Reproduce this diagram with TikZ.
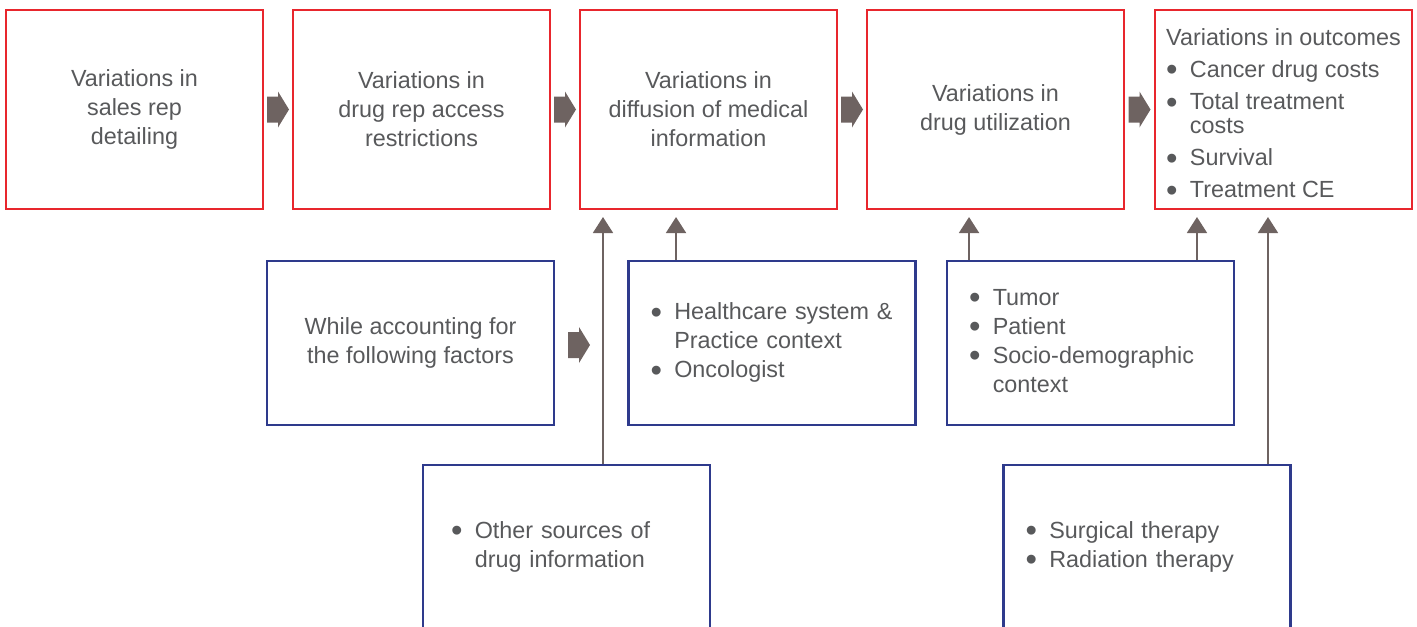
\documentclass[tikz,border=0pt]{standalone}
\usepackage{fontspec}
\setmainfont{Liberation Sans}
\usetikzlibrary{arrows.meta,calc}
\definecolor{boxred}{HTML}{E8262D}
\definecolor{boxblue}{HTML}{2E3A8C}
\definecolor{arrowgray}{HTML}{6E6361}
\definecolor{textgray}{HTML}{58595B}
\newcommand{\blt}{\raisebox{-1.9pt}[0pt][0pt]{\scalebox{1.4}{\textbullet}}}
\tikzset{
  every node/.style={text=textgray,font=\fontsize{13.3}{16.5}\selectfont},
  stage/.style={draw=boxred,line width=1.2pt,minimum width=5.14cm,minimum height=3.98cm,align=center},
  factor/.style={draw=boxblue,line width=1.5pt,minimum width=5.74cm,minimum height=3.28cm,align=center},
  factorlist/.style={factor,text width=4.86cm,align=left},
  feed/.style={draw=arrowgray,line width=1.1pt,-{Triangle[width=0.4cm,length=0.32cm]},shorten >=0.14cm},
  blockarrow/.pic={\fill[arrowgray] (-11,-13) -- (0,-13) -- (0,-18) -- (11,0) -- (0,18) -- (0,13) -- (-11,13) -- cycle;}
}
\begin{document}
\begin{tikzpicture}[x=0.02cm,y=-0.02cm]
\useasboundingbox (0,0) rectangle (1417,626);
\clip (0,0) rectangle (1417,626);
% chain of variations
\node[stage] (detail) at (134.5,109.5) {Variations in\\sales rep\\detailing};
\node[stage] (access) at (421.5,109.5) {Variations in\\drug rep access\\restrictions};
\node[stage] (diffusion) at (708.5,109.5) {Variations in\\diffusion of medical\\information};
\node[stage] (util) at (995.5,109.5) {Variations in\\drug utilization};
\node[stage,inner ysep=0pt] (outcome) at (1283.5,109.5) {\fontsize{13.3}{13.7}\selectfont
  \begin{tabular}{@{}l@{\hspace{7pt}}l@{}}
  \multicolumn{2}{@{}l@{}}{\rule{0pt}{18pt}Variations in outcomes}\\[4.5pt]
  \blt & Cancer drug costs\\[4.5pt]
  \blt & Total treatment\\
   & costs\\[4.5pt]
  \blt & Survival\\[4.5pt]
  \blt & Treatment CE
  \end{tabular}};
\foreach \a/\b in {detail/access,access/diffusion,diffusion/util,util/outcome}
  \pic at ($(\a.east)!0.5!(\b.west)$) {blockarrow};
% factors
\node[factor] (account) at (410.5,343) {While accounting for\\the following factors};
\node[factorlist] (context) at (772,343) {\begin{tabular}{@{}l@{\hspace{7pt}}l@{}}
  \blt & Healthcare system \&\\
   & Practice context\\
  \blt & Oncologist
  \end{tabular}};
\node[factorlist] (patient) at (1090.5,343) {\begin{tabular}{@{}l@{\hspace{7pt}}l@{}}
  \blt & Tumor\\
  \blt & Patient\\
  \blt & Socio-demographic\\
   & context
  \end{tabular}};
\node[factorlist,text width=4.62cm] (sources) at (566.5,547) {\begin{tabular}{@{}l@{\hspace{7pt}}l@{}}
  \blt & Other sources of\\
   & drug information
  \end{tabular}};
\node[factorlist] (therapy) at (1147,547) {\begin{tabular}{@{}l@{\hspace{7pt}}l@{}}
  \blt & Surgical therapy\\
  \blt & Radiation therapy
  \end{tabular}};
\pic at (579,345) {blockarrow};
% feeds into the chain
\draw[feed] ([xshift=0.73cm]sources.north) -- ([xshift=0.73cm]sources.north |- diffusion.south);
\draw[feed] ([xshift=-1.92cm]context.north) -- ([xshift=-1.92cm]context.north |- diffusion.south);
\draw[feed] ([xshift=-2.43cm]patient.north) -- ([xshift=-2.43cm]patient.north |- util.south);
\draw[feed] ([xshift=2.13cm]patient.north) -- ([xshift=2.13cm]patient.north |- outcome.south);
\draw[feed] ([xshift=2.42cm]therapy.north) -- ([xshift=2.42cm]therapy.north |- outcome.south);
\end{tikzpicture}
\end{document}
